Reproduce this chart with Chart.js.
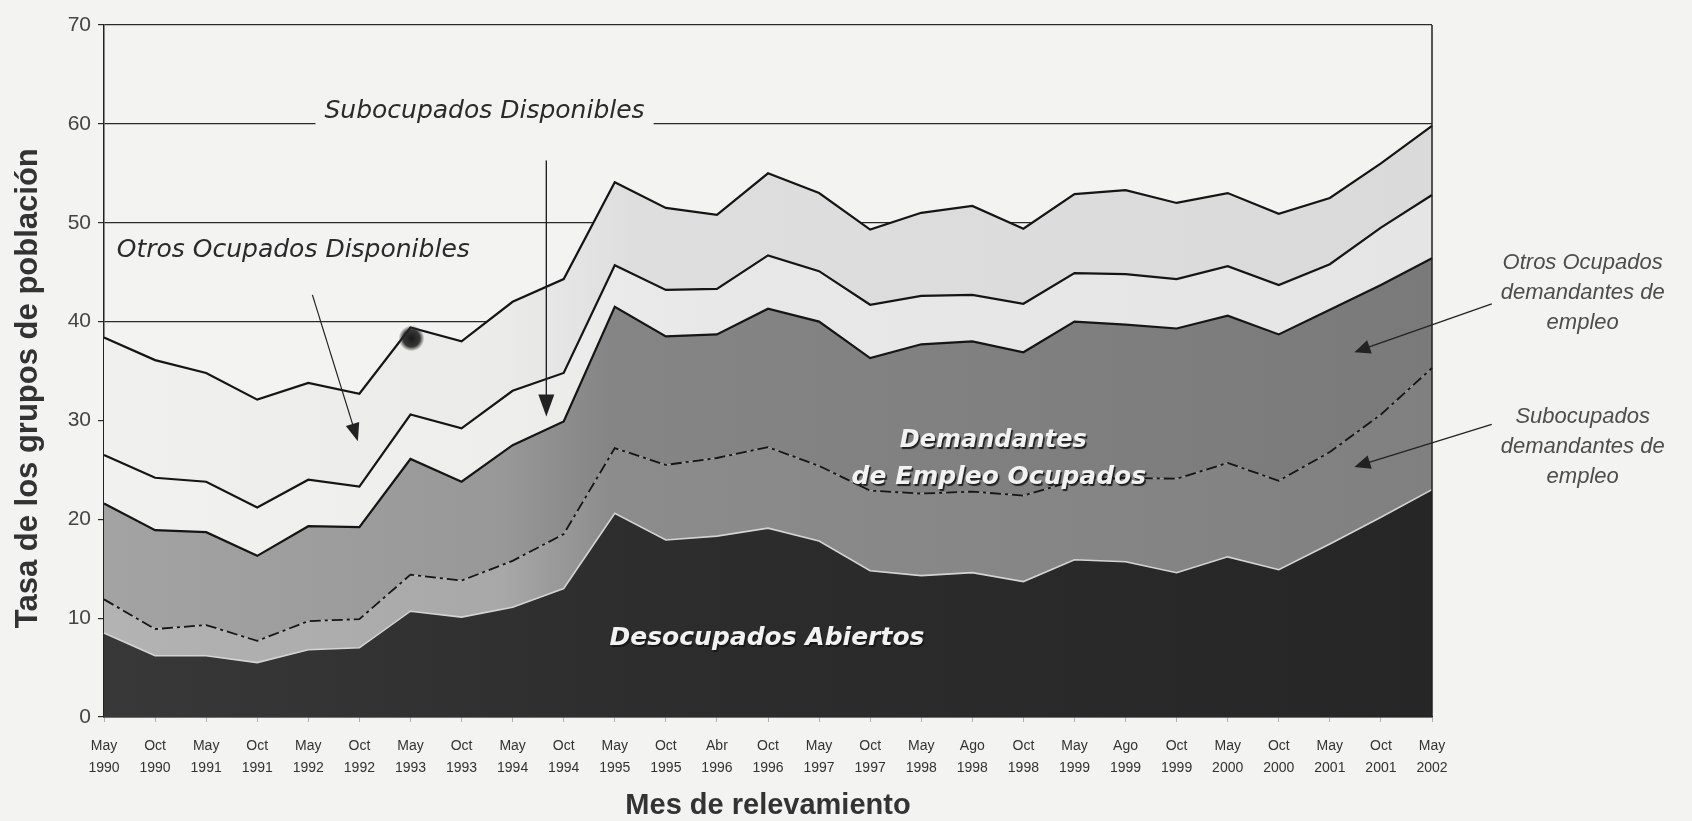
<!DOCTYPE html>
<html>
<head>
<meta charset="utf-8">
<script src="https://cdn.jsdelivr.net/npm/chart.js@4.4.1/dist/chart.umd.min.js"></script>
<style>
html,body{margin:0;padding:0;background:#f3f3f1;}
#wrap{width:1692px;height:821px;position:relative;}
canvas{display:block;}
</style>
</head>
<body>
<div id="wrap"><canvas id="c" width="1692" height="821"></canvas></div>
<script>
// ---- Data (cumulative boundaries of each band) ----
const months = ['May','Oct','May','Oct','May','Oct','May','Oct','May','Oct','May','Oct','Abr','Oct','May','Oct','May','Ago','Oct','May','Ago','Oct','May','Oct','May','Oct','May'];
const years  = ['1990','1990','1991','1991','1992','1992','1993','1993','1994','1994','1995','1995','1996','1996','1997','1997','1998','1998','1998','1999','1999','1999','2000','2000','2001','2001','2002'];

const desocupadosAbiertos       = [8.5,6.2,6.2,5.5,6.8,7.0,10.7,10.1,11.1,13.0,20.6,17.9,18.3,19.1,17.8,14.8,14.3,14.6,13.7,15.9,15.7,14.6,16.2,14.9,17.5,20.2,23.0];
const subocupadosDemandantes    = [11.9,8.9,9.3,7.7,9.7,9.9,14.4,13.8,15.8,18.5,27.2,25.5,26.2,27.3,25.4,22.9,22.6,22.8,22.4,23.9,24.2,24.1,25.7,23.9,26.8,30.6,35.3];
const otrosOcupadosDemandantes  = [21.6,18.9,18.7,16.3,19.3,19.2,26.1,23.8,27.5,29.9,41.5,38.5,38.7,41.3,40.0,36.3,37.7,38.0,36.9,40.0,39.7,39.3,40.6,38.7,41.2,43.7,46.4];
const otrosOcupadosDisponibles  = [26.5,24.2,23.8,21.2,24.0,23.3,30.6,29.2,33.0,34.8,45.7,43.2,43.3,46.7,45.1,41.7,42.6,42.7,41.8,44.9,44.8,44.3,45.6,43.7,45.8,49.5,52.8];
const subocupadosDisponibles    = [38.4,36.1,34.8,32.1,33.8,32.7,39.4,38.0,42.0,44.3,54.1,51.5,50.8,55.0,53.0,49.3,51.0,51.7,49.4,52.9,53.3,52.0,53.0,50.9,52.5,56.0,59.8];

const yMin = 0, yMax = 70, yStep = 10;
const yTitle = 'Tasa de los grupos de población';
const xTitle = 'Mes de relevamiento';

const tickLabels = months.map((m, i) => [m, years[i]]);

// ---- helpers ----
function grad(stops, fallback) {
  return (context) => {
    const chart = context.chart;
    const a = chart.chartArea;
    if (!a) return fallback;
    const g = chart.ctx.createLinearGradient(a.left, 0, a.right, 0);
    stops.forEach(s => g.addColorStop(s[0], s[1]));
    return g;
  };
}

function arrow(ctx, x1, y1, x2, y2, len, half, color, lw) {
  const ang = Math.atan2(y2 - y1, x2 - x1);
  ctx.strokeStyle = color; ctx.fillStyle = color; ctx.lineWidth = lw;
  ctx.beginPath();
  ctx.moveTo(x1, y1);
  ctx.lineTo(x2 - Math.cos(ang) * len * 0.8, y2 - Math.sin(ang) * len * 0.8);
  ctx.stroke();
  ctx.beginPath();
  ctx.moveTo(x2, y2);
  ctx.lineTo(x2 - Math.cos(ang) * len - Math.sin(ang) * half, y2 - Math.sin(ang) * len + Math.cos(ang) * half);
  ctx.lineTo(x2 - Math.cos(ang) * len + Math.sin(ang) * half, y2 - Math.sin(ang) * len - Math.cos(ang) * half);
  ctx.closePath();
  ctx.fill();
}

const notes = {
  id: 'notes',
  afterDatasetsDraw(chart) {
    const {ctx, scales: {x, y}, chartArea: a} = chart;
    const X = v => x.getPixelForValue(v), Y = v => y.getPixelForValue(v);
    ctx.save();

    // scan smudge
    const bx = X(6.02), by = Y(38.3);
    const rg = ctx.createRadialGradient(bx, by, 0, bx, by, 13);
    rg.addColorStop(0, 'rgba(25,25,25,1)');
    rg.addColorStop(0.65, 'rgba(35,35,35,0.9)');
    rg.addColorStop(1, 'rgba(60,60,60,0)');
    ctx.fillStyle = rg;
    ctx.beginPath(); ctx.arc(bx, by, 13, 0, Math.PI * 2); ctx.fill();

    // right border
    ctx.strokeStyle = '#222'; ctx.lineWidth = 1.5;
    ctx.beginPath(); ctx.moveTo(a.right, a.top); ctx.lineTo(a.right, a.bottom); ctx.stroke();

    // "Subocupados Disponibles" (breaks the 60 gridline)
    ctx.font = 'italic 25px "DejaVu Sans"';
    ctx.textAlign = 'center'; ctx.textBaseline = 'middle';
    const t1 = 'Subocupados Disponibles';
    const w1 = ctx.measureText(t1).width;
    const c1x = X(7.45), c1y = Y(61.3);
    ctx.fillStyle = '#f3f3f1';
    ctx.fillRect(c1x - w1 / 2 - 9, Y(60) - 3, w1 + 18, 6);
    ctx.fillStyle = '#2a2a2a';
    ctx.fillText(t1, c1x, c1y);
    arrow(ctx, X(8.66), Y(56.3), X(8.66), Y(30.4), 22, 8, '#222', 1.4);

    // "Otros Ocupados Disponibles"
    ctx.textAlign = 'left';
    ctx.fillStyle = '#2a2a2a';
    ctx.fillText('Otros Ocupados Disponibles', X(0.25), Y(47.2));
    arrow(ctx, X(4.08), Y(42.7), X(4.97), Y(27.9), 18, 7, '#222', 1.2);

    // white bold labels inside the bands
    ctx.textAlign = 'center';
    ctx.shadowColor = 'rgba(20,20,20,0.9)';
    ctx.shadowOffsetX = 1.5; ctx.shadowOffsetY = 1.5; ctx.shadowBlur = 1;
    ctx.fillStyle = '#f2f2f2';
    ctx.font = 'italic bold 24px "DejaVu Sans"';
    ctx.fillText('Demandantes', X(17.41), Y(27.9));
    ctx.font = 'italic bold 25px "DejaVu Sans"';
    ctx.fillText('de Empleo Ocupados', X(17.52), Y(24.2));
    ctx.fillText('Desocupados Abiertos', X(12.98), Y(7.9));
    ctx.shadowColor = 'transparent';
    ctx.shadowOffsetX = 0; ctx.shadowOffsetY = 0; ctx.shadowBlur = 0;

    // right-side labels
    ctx.font = 'italic 22px "Liberation Sans"';
    ctx.fillStyle = '#4d4d4d';
    const rx = X(28.95);
    ctx.fillText('Otros Ocupados', rx, Y(45.9));
    ctx.fillText('demandantes de', rx, Y(42.9));
    ctx.fillText('empleo', rx, Y(39.9));
    ctx.fillText('Subocupados', rx, Y(30.4));
    ctx.fillText('demandantes de', rx, Y(27.3));
    ctx.fillText('empleo', rx, Y(24.3));
    arrow(ctx, X(27.17), Y(41.8), X(24.48), Y(36.9), 16, 7, '#222', 1.3);
    arrow(ctx, X(27.17), Y(29.6), X(24.48), Y(25.3), 16, 7, '#222', 1.3);

    ctx.restore();
  }
};

const common = { pointRadius: 0, pointHoverRadius: 0, tension: 0 };

new Chart(document.getElementById('c'), {
  type: 'line',
  data: {
    labels: tickLabels,
    datasets: [
      Object.assign({
        label: 'Desocupados Abiertos',
        data: desocupadosAbiertos,
        fill: 'origin',
        backgroundColor: grad([[0, '#383838'], [0.4, '#2d2d2d'], [1, '#262626']], '#2d2d2d'),
        borderColor: '#d4d4d4', borderWidth: 1.6
      }, common),
      Object.assign({
        label: 'Subocupados demandantes de empleo',
        data: subocupadosDemandantes,
        fill: '-1',
        backgroundColor: grad([[0, '#b3b3b3'], [0.3, '#a8a8a8'], [0.38, '#8c8c8c'], [1, '#808080']], '#999'),
        borderColor: '#151515', borderWidth: 1.8, borderDash: [11, 4, 3, 4]
      }, common),
      Object.assign({
        label: 'Otros Ocupados demandantes de empleo',
        data: otrosOcupadosDemandantes,
        fill: '-1',
        backgroundColor: grad([[0, '#a3a3a3'], [0.3, '#989898'], [0.38, '#858585'], [1, '#7a7a7a']], '#8c8c8c'),
        borderColor: '#151515', borderWidth: 2.2
      }, common),
      Object.assign({
        label: 'Otros Ocupados Disponibles',
        data: otrosOcupadosDisponibles,
        fill: '-1',
        backgroundColor: grad([[0, '#f1f1f0'], [0.3, '#eeeeed'], [0.45, '#e8e8e8'], [1, '#e5e5e5']], '#ececec'),
        borderColor: '#151515', borderWidth: 2.2
      }, common),
      Object.assign({
        label: 'Subocupados Disponibles',
        data: subocupadosDisponibles,
        fill: '-1',
        backgroundColor: grad([[0, '#f0f0ef'], [0.3, '#ebebea'], [0.4, '#dedede'], [1, '#dadada']], '#e2e2e2'),
        borderColor: '#151515', borderWidth: 2.2
      }, common)
    ]
  },
  options: {
    responsive: false,
    animation: false,
    devicePixelRatio: 1,
    layout: { padding: { left: 0, right: 260, top: 25, bottom: 0 } },
    plugins: { legend: { display: false }, tooltip: { enabled: false } },
    scales: {
      x: {
        type: 'category',
        offset: false,
        grid: { display: true, drawOnChartArea: false, drawTicks: true, tickLength: 5, color: '#b0b0b0' },
        border: { display: true, color: '#222', width: 1.5 },
        ticks: {
          autoSkip: false, maxRotation: 0, minRotation: 0, padding: 13,
          color: '#333',
          font: { family: '"Liberation Sans", Arial, sans-serif', size: 14, lineHeight: 1.6 }
        },
        title: {
          display: true, text: xTitle, color: '#333',
          font: { family: '"Liberation Sans", Arial, sans-serif', size: 29, weight: 'bold', lineHeight: 1.0 },
          padding: { top: 0, bottom: 1 }
        },
        afterFit(scale) { scale.height = 104; }
      },
      y: {
        min: yMin, max: yMax,
        grid: { display: true, drawOnChartArea: true, drawTicks: true, tickLength: 6, color: '#2a2a2a', lineWidth: 1.2 },
        border: { display: true, color: '#222', width: 1.5 },
        ticks: {
          stepSize: yStep, padding: 7, color: '#444',
          font: { family: '"Liberation Sans", Arial, sans-serif', size: 21 }
        },
        title: {
          display: true, text: yTitle + '\u00a0\u00a0\u00a0\u00a0', color: '#333',
          font: { family: '"Liberation Sans", Arial, sans-serif', size: 31, weight: 'bold', lineHeight: 1.2 },
          padding: { top: 10, bottom: 0 }
        },
        afterFit(scale) { scale.width = 104; }
      }
    }
  },
  plugins: [notes]
});
</script>
</body>
</html>
